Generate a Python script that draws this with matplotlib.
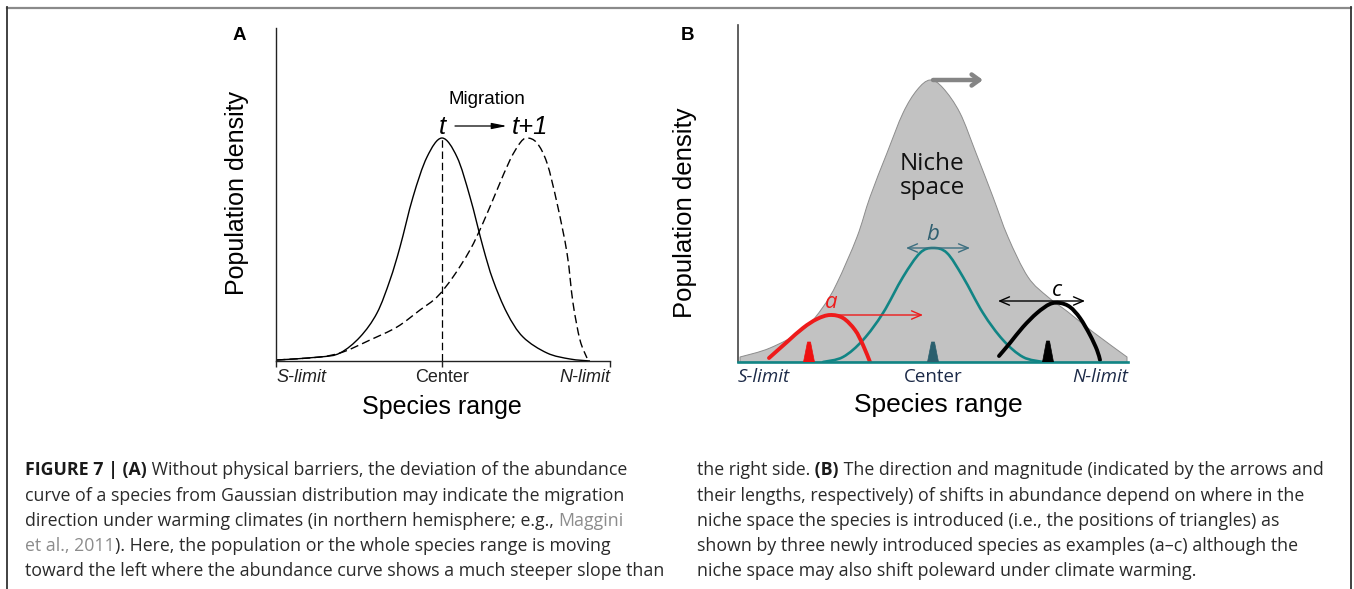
import numpy as np
import matplotlib
matplotlib.use("Agg")
import matplotlib.pyplot as plt
from matplotlib.path import Path
from matplotlib.patches import PathPatch, Polygon
from matplotlib.lines import Line2D
from matplotlib import font_manager

# ---------------- data ----------------
# Panel A: x = position along species range, y = population density
tick_pos_a = [0, 166, 334]
tick_labels = ["S-limit", "Center", "N-limit"]
solid_x = [1, 44, 64, 84, 101, 114, 124, 137, 151, 166, 181, 194, 207, 217, 231, 247, 271, 294, 314]
solid_y = [1, 4, 8, 24, 48, 81, 114, 164, 204, 223, 204, 164, 114, 81, 48, 24, 8, 2, 0]
dash_x = [1, 44, 67, 94, 121, 144, 161, 177, 194, 207, 221, 234, 244, 251, 261, 271, 281, 291, 297, 304, 311]
dash_y = [1, 4, 9, 21, 34, 51, 64, 84, 111, 138, 171, 201, 218, 223, 218, 198, 158, 108, 58, 21, 3]
center_peak_a = 223

# Panel B
tick_pos_b = [0, 195, 390]
niche_x = [2, 32, 65, 85, 99, 119, 132, 149, 165, 179, 192, 205, 222, 238, 255, 270, 290, 310, 330, 355, 389]
niche_y = [5, 14, 32, 55, 79, 125, 165, 209, 249, 272, 282, 274, 249, 209, 165, 125, 85, 65, 50, 30, 5]
a_x = [31, 49, 65, 79, 92, 105, 117, 125, 132]
a_y = [4, 20, 34, 43, 47, 44, 32, 17, 0]
b_x = [85, 105, 125, 145, 165, 182, 195, 209, 225, 245, 265, 285, 305]
b_y = [0, 5, 22, 49, 85, 109, 114, 109, 85, 49, 22, 5, 0]
c_x = [261, 272, 285, 299, 312, 322, 332, 342, 352, 359, 362]
c_y = [6, 19, 35, 49, 58, 59, 55, 44, 27, 12, 2]
tri_x = [71, 195, 310]          # introduction points a, b, c
tri_h = [20, 20, 21]
shift_a = (92, 185, 47)          # x0, x1, y
shift_b = (168, 232, 114)
shift_c = (260, 347, 61)
niche_shift = (195, 245, 282)

caption_left = [
    [("FIGURE 7 | (A)", "b"), (" Without physical barriers, the deviation of the abundance", "n")],
    [("curve of a species from Gaussian distribution may indicate the migration", "n")],
    [("direction under warming climates (in northern hemisphere; e.g., ", "n"), ("Maggini", "g")],
    [("et al., 2011", "g"), ("). Here, the population or the whole species range is moving", "n")],
    [("toward the left where the abundance curve shows a much steeper slope than", "n")],
]
caption_right = [
    [("the right side.", "n"), (" (B)", "b"), (" The direction and magnitude (indicated by the arrows and", "n")],
    [("their lengths, respectively) of shifts in abundance depend on where in the", "n")],
    [("niche space the species is introduced (i.e., the positions of triangles) as", "n")],
    [("shown by three newly introduced species as examples (a\u2013c) although the", "n")],
    [("niche space may also shift poleward under climate warming.", "n")],
]

# ---------------- helpers ----------------
W, H = 1354, 589
fig = plt.figure(figsize=(W / 100, H / 100), dpi=100)
fig.patch.set_facecolor("white")

def fx(px):
    return px / W

def fy(py):
    return 1 - py / H

available = {f.name for f in font_manager.fontManager.ttflist}
ARIAL = "Liberation Sans"
CAL = "Open Sans" if "Open Sans" in available else "DejaVu Sans"
CAPF = "Open Sans" if "Open Sans" in available else "DejaVu Sans"

def smooth_path(xs, ys, close_to_base=False):
    pts = np.column_stack([xs, ys]).astype(float)
    verts = [pts[0]]
    codes = [Path.MOVETO]
    n = len(pts)
    for i in range(n - 1):
        p0 = pts[i - 1] if i > 0 else pts[i]
        p1 = pts[i]
        p2 = pts[i + 1]
        p3 = pts[i + 2] if i + 2 < n else pts[i + 1]
        verts += [p1 + (p2 - p0) / 6, p2 - (p3 - p1) / 6, p2]
        codes += [Path.CURVE4] * 3
    if close_to_base:
        verts += [(pts[-1][0], 0), (pts[0][0], 0), pts[0]]
        codes += [Path.LINETO, Path.LINETO, Path.CLOSEPOLY]
    return Path(verts, codes)

# ---------------- frame ----------------
fig.add_artist(Line2D([fx(7), fx(1351)], [fy(7.5), fy(7.5)], color="#8a8a8a", lw=1.6))
fig.add_artist(Line2D([fx(7), fx(7)], [fy(7), fy(589)], color="#333333", lw=1.3))
fig.add_artist(Line2D([fx(1351), fx(1351)], [fy(7), fy(589)], color="#333333", lw=1.3))

# ---------------- Panel A ----------------
axA = fig.add_axes([fx(276), fy(361), 334 / W, 333 / H])
axA.set_xlim(0, 334)
axA.set_ylim(0, 333)
for s in ["top", "right"]:
    axA.spines[s].set_visible(False)
axA.spines["left"].set_color("#222222")
axA.spines["bottom"].set_color("#222222")
axA.spines["left"].set_linewidth(1.0)
axA.spines["bottom"].set_linewidth(1.0)
axA.set_yticks([])
axA.set_xticks(tick_pos_a)
labs = axA.set_xticklabels(tick_labels, fontsize=13, family=ARIAL, color="#222222")
labs[0].set_ha("left"); labs[0].set_style("italic")
labs[2].set_ha("right"); labs[2].set_style("italic")
axA.tick_params(axis="x", length=4, width=1.0, direction="out", pad=2, color="#222222")
axA.patch.set_alpha(0)

axA.add_patch(PathPatch(smooth_path(solid_x, solid_y), fill=False, ec="black", lw=1.0))
axA.add_patch(PathPatch(smooth_path(dash_x, dash_y), fill=False, ec="black", lw=1.0,
                        linestyle=(0, (6, 3))))
axA.plot([tick_pos_a[1], tick_pos_a[1]], [0, center_peak_a], color="black", lw=0.9,
         linestyle=(0, (6, 3)))
axA.text(211, 261, "Migration", ha="center", va="center", fontsize=13.5, family=ARIAL)
axA.text(166, 234, "t", ha="center", va="center", fontsize=18.5, family=ARIAL, style="italic")
axA.text(254, 234, "t+1", ha="center", va="center", fontsize=18.5, family=ARIAL, style="italic")
axA.annotate("", xy=(231, 235), xytext=(179, 235),
             arrowprops=dict(arrowstyle="-|>,head_length=0.9,head_width=0.18", color="black",
                             lw=0.9, shrinkA=0, shrinkB=0))

fig.text(fx(239), fy(36), "A", ha="center", va="center", fontsize=13.5, weight="bold", family=ARIAL)
fig.text(fx(237), fy(193), "Population density", rotation=90, ha="center", va="center",
         fontsize=18, family=ARIAL)
fig.text(fx(442), fy(407), "Species range", ha="center", va="center", fontsize=18, family=ARIAL)

# ---------------- Panel B ----------------
axB = fig.add_axes([fx(738), fy(362), 390 / W, 337 / H])
axB.set_xlim(0, 390)
axB.set_ylim(0, 337)
for s in ["top", "right"]:
    axB.spines[s].set_visible(False)
axB.spines["left"].set_color("#444444")
axB.spines["left"].set_linewidth(1.2)
axB.spines["bottom"].set_color("#118585")
axB.spines["bottom"].set_linewidth(1.9)
axB.spines["bottom"].set_zorder(5)
axB.set_yticks([])
axB.set_xticks(tick_pos_b)
labsB = axB.set_xticklabels(tick_labels, fontsize=13.5, family=CAL, color="#1c2a48")
labsB[0].set_ha("left"); labsB[0].set_style("italic")
labsB[2].set_ha("right"); labsB[2].set_style("italic")
axB.tick_params(axis="x", length=0, pad=4)
axB.patch.set_alpha(0)

axB.add_patch(PathPatch(smooth_path(niche_x, niche_y, close_to_base=True), fc="#c2c2c2",
                        ec="#8c8c8c", lw=0.7, zorder=1))
axB.text(194, 186, "Niche\nspace", ha="center", va="center", fontsize=17.5, family=CAL,
         linespacing=0.95, color="#111111", zorder=3)
axB.annotate("", xy=(niche_shift[1], niche_shift[2]), xytext=(niche_shift[0], niche_shift[2]),
             arrowprops=dict(arrowstyle="->,head_length=0.55,head_width=0.4", color="#858585",
                             lw=3.2, shrinkA=0, shrinkB=0), zorder=4)

axB.add_patch(PathPatch(smooth_path(b_x, b_y), fill=False, ec="#118585", lw=1.9, zorder=4,
                        capstyle="round"))
axB.add_patch(PathPatch(smooth_path(a_x, a_y), fill=False, ec="#ee1b1b", lw=2.8, zorder=4,
                        capstyle="round"))
axB.add_patch(PathPatch(smooth_path(c_x, c_y), fill=False, ec="black", lw=2.8, zorder=4,
                        capstyle="round"))

tri_colors = ["#ee1111", "#2a5f6e", "#000000"]
for x, h, col in zip(tri_x, tri_h, tri_colors):
    axB.add_patch(Polygon([(x - 5.5, 0), (x - 1.5, h), (x + 1.5, h), (x + 5.5, 0)],
                          closed=True, fc=col, ec=col, lw=0.5, zorder=6))

axB.annotate("", xy=(shift_a[1], shift_a[2]), xytext=(shift_a[0], shift_a[2]),
             arrowprops=dict(arrowstyle="->,head_length=0.7,head_width=0.3", color="#ee1b1b",
                             lw=1.0, shrinkA=0, shrinkB=0), zorder=5)
axB.annotate("", xy=(shift_b[1], shift_b[2]), xytext=(shift_b[0], shift_b[2]),
             arrowprops=dict(arrowstyle="<->,head_length=0.7,head_width=0.3", color="#3d6f80",
                             lw=1.0, shrinkA=0, shrinkB=0), zorder=5)
axB.annotate("", xy=(shift_c[1], shift_c[2]), xytext=(shift_c[0], shift_c[2]),
             arrowprops=dict(arrowstyle="<->,head_length=0.7,head_width=0.3", color="black",
                             lw=1.0, shrinkA=0, shrinkB=0), zorder=5)
axB.text(93, 59, "a", ha="center", va="center", fontsize=16, family=CAL, style="italic",
         color="#ee1b1b", zorder=6)
axB.text(195, 127, "b", ha="center", va="center", fontsize=16, family=CAL, style="italic",
         color="#2f5f70", zorder=6)
axB.text(319, 72, "c", ha="center", va="center", fontsize=16, family=CAL, style="italic",
         color="black", zorder=6)

fig.text(fx(688), fy(35), "B", ha="center", va="center", fontsize=13.5, weight="bold", family=ARIAL)
fig.text(fx(685), fy(213), "Population density", rotation=90, ha="center", va="center",
         fontsize=18.5, family=ARIAL)
fig.text(fx(938), fy(405), "Species range", ha="center", va="center", fontsize=19, family=ARIAL)

# ---------------- caption ----------------
renderer = fig.canvas.get_renderer()
line_y = [470, 496, 521, 546, 571]
styles = {"n": dict(color="#2a2a2a", weight="normal"),
          "b": dict(color="#1a1a1a", weight="bold"),
          "g": dict(color="#8c8c8c", weight="normal")}

# fit caption font size so the longest left line spans its width in the picture
probe = fig.text(0, 0, caption_left[4][0][0], fontsize=10, family=CAPF)
pw = probe.get_window_extent(renderer).width
probe.remove()
cap_size = 10 * (663 - 25) / pw

def draw_lines(lines, x0):
    for segs, py in zip(lines, line_y):
        x = x0
        for txt, st in segs:
            t = fig.text(fx(x), fy(py), txt, ha="left", va="center", fontsize=cap_size,
                         family=CAPF, **styles[st])
            bb = t.get_window_extent(renderer)
            x = bb.x1

draw_lines(caption_left, 25)
draw_lines(caption_right, 697)

fig.savefig("out.png", dpi=100, facecolor="white")
